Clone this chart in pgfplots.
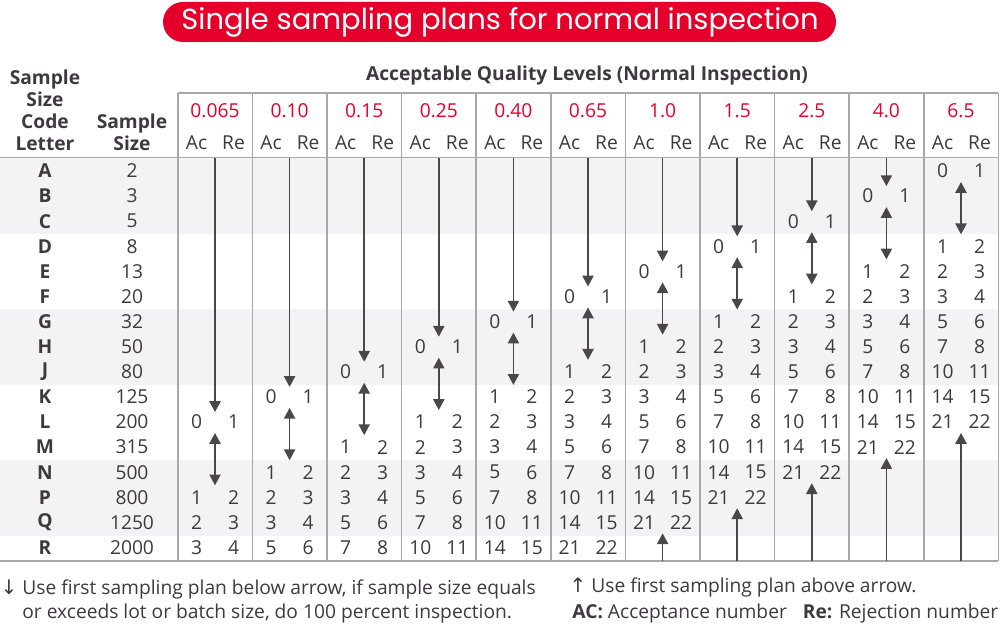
\documentclass[border=0pt]{standalone}
\usepackage{pgfplots}
\pgfplotsset{compat=1.18}
\usepackage{pgfplotstable}
\usepackage{fontspec}
\setmainfont{Open Sans}
\newfontfamily\titlefont{Poppins}
\newfontfamily\symfont{DejaVu Sans}
\usetikzlibrary{arrows.meta}

\definecolor{brandred}{HTML}{E4002B}
\definecolor{txt}{HTML}{3C3A3C}
\definecolor{band}{HTML}{F3F2F4}
\definecolor{rule}{HTML}{A8A8A8}
\definecolor{arr}{HTML}{4A474A}

% sampling plans: AQL column, code letter row, Ac, Re
\pgfplotstableread{
col row ac re
0 10 0 1
0 13 1 2
0 14 2 3
0 15 3 4
1 9 0 1
1 12 1 2
1 13 2 3
1 14 3 4
1 15 5 6
2 8 0 1
2 11 1 2
2 12 2 3
2 13 3 4
2 14 5 6
2 15 7 8
3 7 0 1
3 10 1 2
3 11 2 3
3 12 3 4
3 13 5 6
3 14 7 8
3 15 10 11
4 6 0 1
4 9 1 2
4 10 2 3
4 11 3 4
4 12 5 6
4 13 7 8
4 14 10 11
4 15 14 15
5 5 0 1
5 8 1 2
5 9 2 3
5 10 3 4
5 11 5 6
5 12 7 8
5 13 10 11
5 14 14 15
5 15 21 22
6 4 0 1
6 7 1 2
6 8 2 3
6 9 3 4
6 10 5 6
6 11 7 8
6 12 10 11
6 13 14 15
6 14 21 22
7 3 0 1
7 6 1 2
7 7 2 3
7 8 3 4
7 9 5 6
7 10 7 8
7 11 10 11
7 12 14 15
7 13 21 22
8 2 0 1
8 5 1 2
8 6 2 3
8 7 3 4
8 8 5 6
8 9 7 8
8 10 10 11
8 11 14 15
8 12 21 22
9 1 0 1
9 4 1 2
9 5 2 3
9 6 3 4
9 7 5 6
9 8 7 8
9 9 10 11
9 10 14 15
9 11 21 22
10 0 0 1
10 3 1 2
10 4 2 3
10 5 3 4
10 6 5 6
10 7 7 8
10 8 10 11
10 9 14 15
10 10 21 22
}\plans

\pgfplotstableread{
row letter size
0 A 2
1 B 3
2 C 5
3 D 8
4 E 13
5 F 20
6 G 32
7 H 50
8 J 80
9 K 125
10 L 200
11 M 315
12 N 500
13 P 800
14 Q 1250
15 R 2000
}\rows

\pgfplotstableread{
col aql
0 0.065
1 0.10
2 0.15
3 0.25
4 0.40
5 0.65
6 1.0
7 1.5
8 2.5
9 4.0
10 6.5
}\aqls

% arrows: column, start row, end row (down: from top; up: to bottom)
\pgfplotstableread{
col to
0 10
1 9
2 8
3 7
4 6
5 5
6 4
7 3
8 2
9 1
}\downarrows

\pgfplotstableread{
col from to
0 10 13
1 9 12
2 8 11
3 7 10
4 6 9
5 5 8
6 4 7
7 3 6
8 2 5
9 1 4
10 0 3
}\bothways

\pgfplotstableread{
col from
6 14
7 13
8 12
9 11
10 10
}\uparrows

% column separators (x position in px, top in px)
\pgfplotstableread{
x top
0 93
1 93
2 93
3 93
4 93
5 93
6 93
7 93
8 93
9 93
10 93
11 93
}\seps

\newcommand\bodyfont{\fontsize{9.6}{11}\selectfont}

\begin{document}
\begin{tikzpicture}
\begin{axis}[
    scale only axis, width=500pt, height=312pt,
    xmin=0, xmax=1000, ymin=0, ymax=624, y dir=reverse,
    hide axis, clip=false,
    cell/.style={draw=none, mark=none, nodes near coords,
        point meta=explicit symbolic,
        every node near coord/.style={anchor=center, inner sep=0pt,
            font=\bodyfont, text=txt}},
    arrowline/.style={draw=arr, line width=0.8pt},
]
% shaded row bands
\addplot[draw=none, fill=band] coordinates {(0,158.4) (998.3,158.4) (998.3,233.7) (0,233.7)} -- cycle;
\addplot[draw=none, fill=band] coordinates {(0,309.0) (998.3,309.0) (998.3,384.9) (0,384.9)} -- cycle;
\addplot[draw=none, fill=band] coordinates {(0,460.2) (998.3,460.2) (998.3,535.6) (0,535.6)} -- cycle;

% rules
\addplot[draw=rule, line width=0.8pt, quiver={u=0, v=467.6}]
    table[x expr={177.7+74.6*\thisrow{x}}, y=top] {\seps};
\addplot[draw=rule, line width=0.8pt] coordinates {(177.7,93) (998.3,93)};
\addplot[draw=rule, line width=0.8pt] coordinates {(0,157.5) (998.3,157.5)};
\addplot[draw=rule, line width=0.8pt] coordinates {(0,560.7) (998.3,560.7)};

% code letters and sample sizes
\addplot[cell, every node near coord/.append style={font=\bodyfont\bfseries}]
    table[x expr=45, y expr={171+25.1*\thisrow{row}}, meta=letter] {\rows};
\addplot[cell]
    table[x expr=132, y expr={171+25.1*\thisrow{row}}, meta=size] {\rows};

% AQL headings
\addplot[cell, every node near coord/.append style={text=brandred}]
    table[x expr={215+74.6*\thisrow{col}}, y expr=111, meta=aql] {\aqls};

% Ac / Re numbers
\addplot[cell]
    table[x expr={215+74.6*\thisrow{col}-18.5}, y expr={171+25.1*\thisrow{row}}, meta=ac] {\plans};
\addplot[cell]
    table[x expr={215+74.6*\thisrow{col}+18.5}, y expr={171+25.1*\thisrow{row}}, meta=re] {\plans};

% arrows
\addplot[arrowline, -{Triangle[width=5.6pt,length=5.4pt]},
    quiver={u=0, v={171+25.1*\thisrow{to}-10-158.4}}]
    table[x expr={215+74.6*\thisrow{col}}, y expr=158.4] {\downarrows};
\addplot[arrowline, {Triangle[width=5.6pt,length=5.4pt]}-{Triangle[width=5.6pt,length=5.4pt]},
    quiver={u=0, v={25.1*(\thisrow{to}-\thisrow{from})-23}}]
    table[x expr={215+74.6*\thisrow{col}}, y expr={171+25.1*\thisrow{from}+11}] {\bothways};
\addplot[arrowline, -{Triangle[width=5.6pt,length=5.4pt]},
    quiver={u=0, v={171+25.1*\thisrow{from}+11-560.7}}]
    table[x expr={215+74.6*\thisrow{col}}, y expr=560.7] {\uparrows};

% header texts
\foreach \c in {0,...,10}{
  \edef\tmp{\noexpand\node[font=\noexpand\bodyfont, text=txt] at (axis cs:{215+74.6*\c-18.5},143) {Ac};
            \noexpand\node[font=\noexpand\bodyfont, text=txt] at (axis cs:{215+74.6*\c+18.5},143) {Re};}
  \tmp
}
\node[font=\bodyfont\bfseries, text=txt, align=center, inner sep=0pt]
    at (axis cs:45,110) {Sample\\Size\\Code\\Letter};
\node[font=\bodyfont\bfseries, text=txt, align=center, inner sep=0pt]
    at (axis cs:132,132) {Sample\\Size};
\node[font=\bodyfont\bfseries, text=txt] at (axis cs:587,76)
    {Acceptable Quality Levels (Normal Inspection)};

% title pill
\fill[brandred, rounded corners=10pt] (axis cs:163,2) rectangle (axis cs:836,42);
\node[font=\titlefont\fontsize{14.5}{16}\selectfont, text=white] at (axis cs:500,22)
    {Single sampling plans for normal inspection};

% footnotes
\node[font=\symfont\fontsize{10}{11}\selectfont, text=txt, anchor=base] at (axis cs:9,594) {↓};
\node[font=\bodyfont, text=txt, anchor=base west, inner sep=0pt] at (axis cs:22,594)
    {Use first sampling plan below arrow, if sample size equals};
\node[font=\bodyfont, text=txt, anchor=base west, inner sep=0pt] at (axis cs:22,618)
    {or exceeds lot or batch size, do 100 percent inspection.};
\node[font=\symfont\fontsize{10}{11}\selectfont, text=txt, anchor=base] at (axis cs:578,592) {↑};
\node[font=\bodyfont, text=txt, anchor=base west, inner sep=0pt] at (axis cs:591,592)
    {Use first sampling plan above arrow.};
\node[font=\bodyfont, text=txt, anchor=base west, inner sep=0pt] at (axis cs:572,618)
    {\textbf{AC:} Acceptance number\hspace{8pt}\textbf{Re:} Rejection number};
\end{axis}
\pgfresetboundingbox
\path (0,0) rectangle (500pt,312pt);
\end{tikzpicture}
\end{document}
